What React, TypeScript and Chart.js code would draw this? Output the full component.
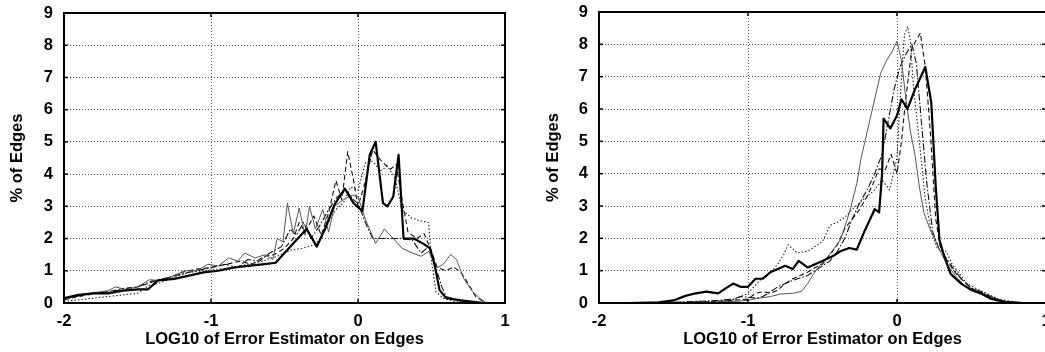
import React, { useEffect, useRef } from "react";
import { Chart, registerables } from "chart.js";

Chart.register(...registerables);

type Pt = [number, number];

// ---------- shared axis content ----------
const xTickValues = [-2, -1, 0, 1];
const yTickValues = [0, 1, 2, 3, 4, 5, 6, 7, 8, 9];
const xAxisTitle = "LOG10 of Error Estimator on Edges";
const yAxisTitle = "% of Edges";

// ---------- left panel series ----------
const leftThickSolid: Pt[] = [
  [-2, 0.15], [-1.9, 0.25], [-1.8, 0.3], [-1.7, 0.3], [-1.6, 0.38], [-1.5, 0.42], [-1.43, 0.42],
  [-1.36, 0.7], [-1.25, 0.75], [-1.15, 0.85], [-1.05, 0.95], [-0.95, 1.0], [-0.85, 1.1], [-0.75, 1.15],
  [-0.65, 1.2], [-0.56, 1.25], [-0.5, 1.55], [-0.43, 1.9], [-0.35, 2.3], [-0.28, 1.75], [-0.22, 2.35],
  [-0.16, 3.05], [-0.09, 3.55], [-0.03, 3.1], [0.03, 2.85], [0.08, 4.6], [0.12, 5.0], [0.17, 3.1],
  [0.2, 3.0], [0.24, 3.3], [0.276, 4.6], [0.31, 2.0], [0.38, 2.0], [0.44, 1.85], [0.49, 1.7],
  [0.52, 1.2], [0.555, 0.4], [0.6, 0.15], [0.7, 0.08], [0.8, 0.03], [0.86, 0],
];
const leftThinSolid: Pt[] = [
  [-2, 0.12], [-1.9, 0.25], [-1.8, 0.32], [-1.7, 0.38], [-1.65, 0.5], [-1.58, 0.42], [-1.5, 0.5],
  [-1.42, 0.72], [-1.35, 0.7], [-1.25, 0.85], [-1.18, 1.0], [-1.1, 1.0], [-1.02, 1.2], [-0.95, 1.15],
  [-0.88, 1.4], [-0.82, 1.3], [-0.77, 1.55], [-0.7, 1.4], [-0.63, 1.5], [-0.58, 1.35], [-0.55, 2.0],
  [-0.51, 1.9], [-0.48, 3.1], [-0.44, 2.15], [-0.4, 2.95], [-0.36, 2.1], [-0.33, 3.0], [-0.29, 2.3],
  [-0.24, 2.9], [-0.2, 2.2], [-0.16, 3.0], [-0.1, 3.2], [-0.04, 3.35], [0.0, 3.3], [0.05, 2.6],
  [0.12, 1.85], [0.18, 2.3], [0.24, 2.0], [0.3, 1.7], [0.37, 1.55], [0.43, 1.45], [0.48, 1.6],
  [0.54, 1.1], [0.58, 1.2], [0.63, 1.5], [0.67, 1.35], [0.72, 0.75], [0.78, 0.35], [0.84, 0.1], [0.88, 0],
];
const leftDashed: Pt[] = [
  [-2, 0.1], [-1.9, 0.2], [-1.8, 0.28], [-1.7, 0.35], [-1.6, 0.45], [-1.5, 0.5], [-1.4, 0.65],
  [-1.3, 0.75], [-1.2, 0.95], [-1.1, 1.05], [-1.0, 1.1], [-0.9, 1.2], [-0.8, 1.3], [-0.72, 1.2],
  [-0.64, 1.45], [-0.57, 1.5], [-0.5, 1.7], [-0.44, 2.0], [-0.4, 2.5], [-0.36, 2.2], [-0.3, 2.7],
  [-0.25, 2.1], [-0.2, 2.8], [-0.15, 3.8], [-0.11, 3.2], [-0.07, 4.7], [-0.03, 3.8], [0.0, 3.0],
  [0.04, 3.6], [0.1, 4.75], [0.16, 4.4], [0.22, 4.15], [0.26, 4.3], [0.3, 3.2], [0.34, 2.2],
  [0.4, 2.0], [0.45, 2.15], [0.5, 1.6], [0.54, 1.1], [0.6, 1.0], [0.65, 1.12], [0.7, 0.95],
  [0.75, 0.6], [0.8, 0.2], [0.87, 0],
];
const leftDotted: Pt[] = [
  [-2, 0.05], [-1.9, 0.1], [-1.8, 0.15], [-1.7, 0.2], [-1.6, 0.25], [-1.5, 0.3], [-1.42, 0.55],
  [-1.35, 0.62], [-1.25, 0.8], [-1.15, 0.95], [-1.05, 1.0], [-0.95, 1.05], [-0.85, 1.1], [-0.75, 1.2],
  [-0.65, 1.3], [-0.55, 1.45], [-0.45, 1.65], [-0.38, 1.7], [-0.3, 1.8], [-0.25, 2.0], [-0.2, 2.5],
  [-0.15, 2.9], [-0.1, 3.1], [-0.05, 3.6], [0.0, 3.5], [0.05, 4.35], [0.1, 4.4], [0.15, 4.1],
  [0.2, 4.25], [0.25, 3.9], [0.3, 2.9], [0.36, 2.65], [0.42, 2.55], [0.48, 2.5], [0.5, 1.3],
  [0.53, 0.35], [0.58, 0.15], [0.65, 0.05], [0.75, 0],
];
const leftDashDot: Pt[] = [
  [-2, 0.12], [-1.9, 0.22], [-1.8, 0.3], [-1.7, 0.35], [-1.6, 0.42], [-1.5, 0.5], [-1.4, 0.68],
  [-1.3, 0.78], [-1.2, 0.9], [-1.1, 1.0], [-1.0, 1.1], [-0.9, 1.2], [-0.82, 1.1], [-0.75, 1.35],
  [-0.67, 1.3], [-0.6, 1.55], [-0.52, 1.75], [-0.46, 2.3], [-0.42, 2.1], [-0.37, 2.5], [-0.32, 2.0],
  [-0.26, 2.4], [-0.2, 2.9], [-0.14, 3.3], [-0.08, 3.5], [-0.03, 3.2], [0.0, 3.1], [0.05, 2.5],
  [0.1, 2.0], [0.2, 2.0], [0.3, 2.0], [0.37, 1.95], [0.43, 1.55], [0.48, 1.75], [0.53, 1.1],
  [0.57, 0.5], [0.6, 0.2], [0.7, 0.06], [0.8, 0],
];

// ---------- right panel series ----------
const rightThickSolid: Pt[] = [
  [-2, 0], [-1.8, 0], [-1.6, 0.02], [-1.5, 0.08], [-1.42, 0.22], [-1.35, 0.3], [-1.28, 0.35],
  [-1.2, 0.3], [-1.15, 0.45], [-1.1, 0.6], [-1.05, 0.5], [-1.0, 0.5], [-0.95, 0.75], [-0.9, 0.75],
  [-0.85, 0.95], [-0.8, 1.05], [-0.75, 1.15], [-0.7, 1.05], [-0.66, 1.3], [-0.6, 1.1], [-0.55, 1.2],
  [-0.5, 1.3], [-0.43, 1.45], [-0.38, 1.6], [-0.32, 1.7], [-0.27, 1.65], [-0.22, 2.2], [-0.18, 2.6],
  [-0.15, 2.9], [-0.12, 2.8], [-0.1, 4.0], [-0.09, 5.7], [-0.045, 5.4], [0.0, 5.8], [0.03, 6.3],
  [0.07, 6.0], [0.12, 6.6], [0.19, 7.3], [0.23, 6.2], [0.26, 3.6], [0.285, 1.95], [0.32, 1.4],
  [0.36, 0.9], [0.43, 0.6], [0.5, 0.4], [0.57, 0.28], [0.63, 0.13], [0.72, 0.03], [0.85, 0], [1.0, 0],
];
const rightThinSolid: Pt[] = [
  [-2, 0], [-1.5, 0], [-1.3, 0.02], [-1.1, 0.05], [-1.0, 0.08], [-0.95, 0.13], [-0.85, 0.2],
  [-0.78, 0.28], [-0.7, 0.3], [-0.64, 0.36], [-0.6, 0.6], [-0.56, 0.9], [-0.52, 1.15], [-0.47, 1.4],
  [-0.42, 1.7], [-0.38, 1.95], [-0.34, 2.5], [-0.31, 2.95], [-0.27, 3.7], [-0.24, 4.5], [-0.2, 5.3],
  [-0.17, 5.9], [-0.14, 6.5], [-0.11, 7.1], [-0.07, 7.5], [-0.03, 7.8], [0.0, 8.1], [0.03, 7.5],
  [0.06, 6.3], [0.09, 5.3], [0.12, 4.6], [0.15, 3.6], [0.18, 2.8], [0.22, 2.3], [0.26, 1.9],
  [0.3, 1.5], [0.35, 1.1], [0.4, 0.8], [0.46, 0.5], [0.52, 0.35], [0.58, 0.28], [0.65, 0.12],
  [0.75, 0.03], [0.9, 0], [1.0, 0],
];
const rightDotted: Pt[] = [
  [-2, 0], [-1.5, 0.02], [-1.3, 0.04], [-1.2, 0.06], [-1.1, 0.1], [-1.05, 0.2], [-1.0, 0.3],
  [-0.95, 0.55], [-0.9, 0.8], [-0.85, 0.95], [-0.8, 1.2], [-0.76, 1.5], [-0.73, 1.8], [-0.67, 1.55],
  [-0.6, 1.6], [-0.55, 1.75], [-0.5, 1.9], [-0.45, 2.4], [-0.4, 2.5], [-0.35, 2.65], [-0.3, 2.9],
  [-0.25, 3.1], [-0.2, 3.3], [-0.15, 3.5], [-0.1, 3.8], [-0.05, 3.5], [0.0, 4.5], [0.03, 7.0],
  [0.05, 8.3], [0.072, 8.55], [0.09, 8.1], [0.11, 6.7], [0.145, 5.2], [0.19, 3.2], [0.23, 2.2],
  [0.27, 1.7], [0.3, 1.6], [0.33, 1.6], [0.37, 1.2], [0.42, 0.9], [0.47, 0.6], [0.53, 0.45],
  [0.6, 0.3], [0.68, 0.12], [0.8, 0.02], [1.0, 0],
];
const rightDashed: Pt[] = [
  [-2, 0], [-1.5, 0.01], [-1.2, 0.05], [-1.05, 0.1], [-1.0, 0.12], [-0.95, 0.3], [-0.9, 0.35],
  [-0.85, 0.3], [-0.8, 0.4], [-0.75, 0.6], [-0.7, 0.75], [-0.65, 0.85], [-0.6, 0.95], [-0.55, 1.1],
  [-0.5, 1.2], [-0.45, 1.5], [-0.4, 1.8], [-0.35, 2.3], [-0.3, 2.6], [-0.25, 2.9], [-0.2, 3.3],
  [-0.16, 3.7], [-0.12, 4.15], [-0.08, 4.1], [-0.04, 4.6], [0.0, 4.0], [0.03, 5.0], [0.056, 6.2],
  [0.1, 7.9], [0.157, 8.35], [0.19, 7.3], [0.225, 5.2], [0.26, 2.6], [0.29, 1.75], [0.33, 1.35],
  [0.38, 1.0], [0.43, 0.75], [0.5, 0.45], [0.56, 0.35], [0.62, 0.2], [0.7, 0.06], [0.85, 0], [1.0, 0],
];
const rightDashDot: Pt[] = [
  [-2, 0], [-1.5, 0.02], [-1.2, 0.08], [-1.1, 0.12], [-1.05, 0.2], [-1.0, 0.18], [-0.95, 0.15],
  [-0.9, 0.2], [-0.8, 0.5], [-0.7, 0.7], [-0.6, 0.85], [-0.55, 1.0], [-0.5, 1.15], [-0.45, 1.3],
  [-0.4, 1.6], [-0.35, 2.0], [-0.3, 2.6], [-0.25, 3.1], [-0.2, 3.5], [-0.15, 4.0], [-0.1, 4.6],
  [-0.06, 5.6], [-0.02, 6.6], [0.02, 7.3], [0.06, 7.7], [0.1, 8.0], [0.13, 7.4], [0.16, 5.8],
  [0.2, 3.7], [0.24, 2.2], [0.28, 1.7], [0.33, 1.4], [0.38, 1.05], [0.44, 0.7], [0.5, 0.45],
  [0.57, 0.35], [0.63, 0.2], [0.72, 0.05], [0.85, 0], [1.0, 0],
];

// ---------- styling ----------
const FONT_FAMILY = "'Liberation Sans', Arial, Helvetica, sans-serif";
// order: thick solid, thin solid, dashed, dotted, dash-dot
const lineStyles = [
  { color: "#000000", width: 2.2, dash: [] as number[] },
  { color: "#555555", width: 1, dash: [] as number[] },
  { color: "#111111", width: 1.1, dash: [5, 3] },
  { color: "#222222", width: 1.1, dash: [1.5, 2] },
  { color: "#111111", width: 1.1, dash: [7, 2, 1.5, 2] },
];

const framePlugin = {
  id: "gnuFrame",
  afterDatasetsDraw(chart: any) {
    const { ctx, chartArea: a, scales } = chart;
    const xs = scales.x;
    const ys = scales.y;
    ctx.save();
    ctx.strokeStyle = "#000";
    ctx.lineWidth = 2;
    ctx.strokeRect(a.left, a.top, a.right - a.left, a.bottom - a.top);
    ctx.lineWidth = 1.5;
    const seg = (x1: number, y1: number, x2: number, y2: number) => {
      ctx.beginPath();
      ctx.moveTo(x1, y1);
      ctx.lineTo(x2, y2);
      ctx.stroke();
    };
    ys.ticks.forEach((t: any) => {
      const py = ys.getPixelForValue(t.value);
      seg(a.left, py, a.left + 4, py);
      seg(a.right, py, a.right - 4, py);
    });
    xs.ticks.forEach((t: any) => {
      const px = xs.getPixelForValue(t.value);
      seg(px, a.bottom, px, a.bottom - 4);
      seg(px, a.top, px, a.top + 4);
    });
    ctx.restore();
  },
};

type PanelProps = {
  series: Pt[][];
  width: number;
  plotLeft: number;
  plotRight: number;
  plotTop: number;
  plotBottom: number;
  yTitleCenter: number;
};

function Panel(props: PanelProps) {
  const ref = useRef<HTMLCanvasElement | null>(null);
  useEffect(() => {
    if (!ref.current) return;
    const H = 352;
    const font = { family: FONT_FAMILY, size: 16.5, weight: "bold" as const };
    const chart = new Chart(ref.current, {
      type: "line",
      data: {
        datasets: props.series.map((s, i) => ({
          data: s.map(([x, y]) => ({ x, y })),
          borderColor: lineStyles[i].color,
          borderWidth: lineStyles[i].width,
          borderDash: lineStyles[i].dash,
          borderJoinStyle: "round" as const,
          pointRadius: 0,
          tension: 0,
          fill: false,
        })),
      },
      options: {
        animation: false,
        responsive: false,
        events: [],
        layout: {
          padding: {
            left: 0,
            right: props.width - props.plotRight,
            top: props.plotTop,
            bottom: 0,
          },
        },
        plugins: { legend: { display: false }, tooltip: { enabled: false } },
        scales: {
          x: {
            type: "linear",
            min: -2,
            max: 1,
            afterBuildTicks: (s: any) => {
              s.ticks = xTickValues.map((v) => ({ value: v }));
            },
            afterFit: (s: any) => {
              s.height = H - props.plotBottom;
              s.paddingLeft = 0;
              s.paddingRight = 0;
            },
            ticks: {
              color: "#000",
              font,
              padding: 9,
              maxRotation: 0,
              autoSkip: false,
              callback: (v: any) => String(v),
            },
            grid: { color: "#555", lineWidth: 1, drawTicks: false },
            border: { display: false, dash: [1, 2] },
            title: {
              display: true,
              text: xAxisTitle,
              color: "#000",
              font,
              padding: { top: 0, bottom: 3 },
            },
          },
          y: {
            type: "linear",
            min: 0,
            max: 9,
            afterBuildTicks: (s: any) => {
              s.ticks = yTickValues.map((v) => ({ value: v }));
            },
            afterFit: (s: any) => {
              s.width = props.plotLeft;
              s.paddingTop = 0;
              s.paddingBottom = 0;
            },
            ticks: {
              color: "#000",
              font,
              padding: 11,
              autoSkip: false,
              callback: (v: any) => String(v),
            },
            grid: { color: "#555", lineWidth: 1, drawTicks: false },
            border: { display: false, dash: [1, 2] },
            title: {
              display: true,
              text: yAxisTitle,
              color: "#000",
              font,
              padding: { top: props.yTitleCenter - 9.9, bottom: 0 },
            },
          },
        },
      },
      plugins: [framePlugin],
    } as any);
    return () => chart.destroy();
  }, []);
  return (
    <canvas
      ref={ref}
      width={props.width}
      height={352}
      style={{ display: "block", width: props.width, height: 352 }}
    />
  );
}

export default function App() {
  return (
    <div
      style={{
        position: "absolute",
        left: 0,
        top: 0,
        width: 1045,
        height: 352,
        overflow: "hidden",
        background: "#fff",
      }}
    >
      <div style={{ position: "absolute", left: 0, top: 0 }}>
        <Panel
          series={[leftThickSolid, leftThinSolid, leftDashed, leftDotted, leftDashDot]}
          width={520}
          plotLeft={64}
          plotRight={505}
          plotTop={13}
          plotBottom={303}
          yTitleCenter={17.5}
        />
      </div>
      <div style={{ position: "absolute", left: 520, top: 0 }}>
        <Panel
          series={[rightThickSolid, rightThinSolid, rightDashed, rightDotted, rightDashDot]}
          width={530}
          plotLeft={79}
          plotRight={526}
          plotTop={12}
          plotBottom={303}
          yTitleCenter={33.3}
        />
      </div>
    </div>
  );
}
